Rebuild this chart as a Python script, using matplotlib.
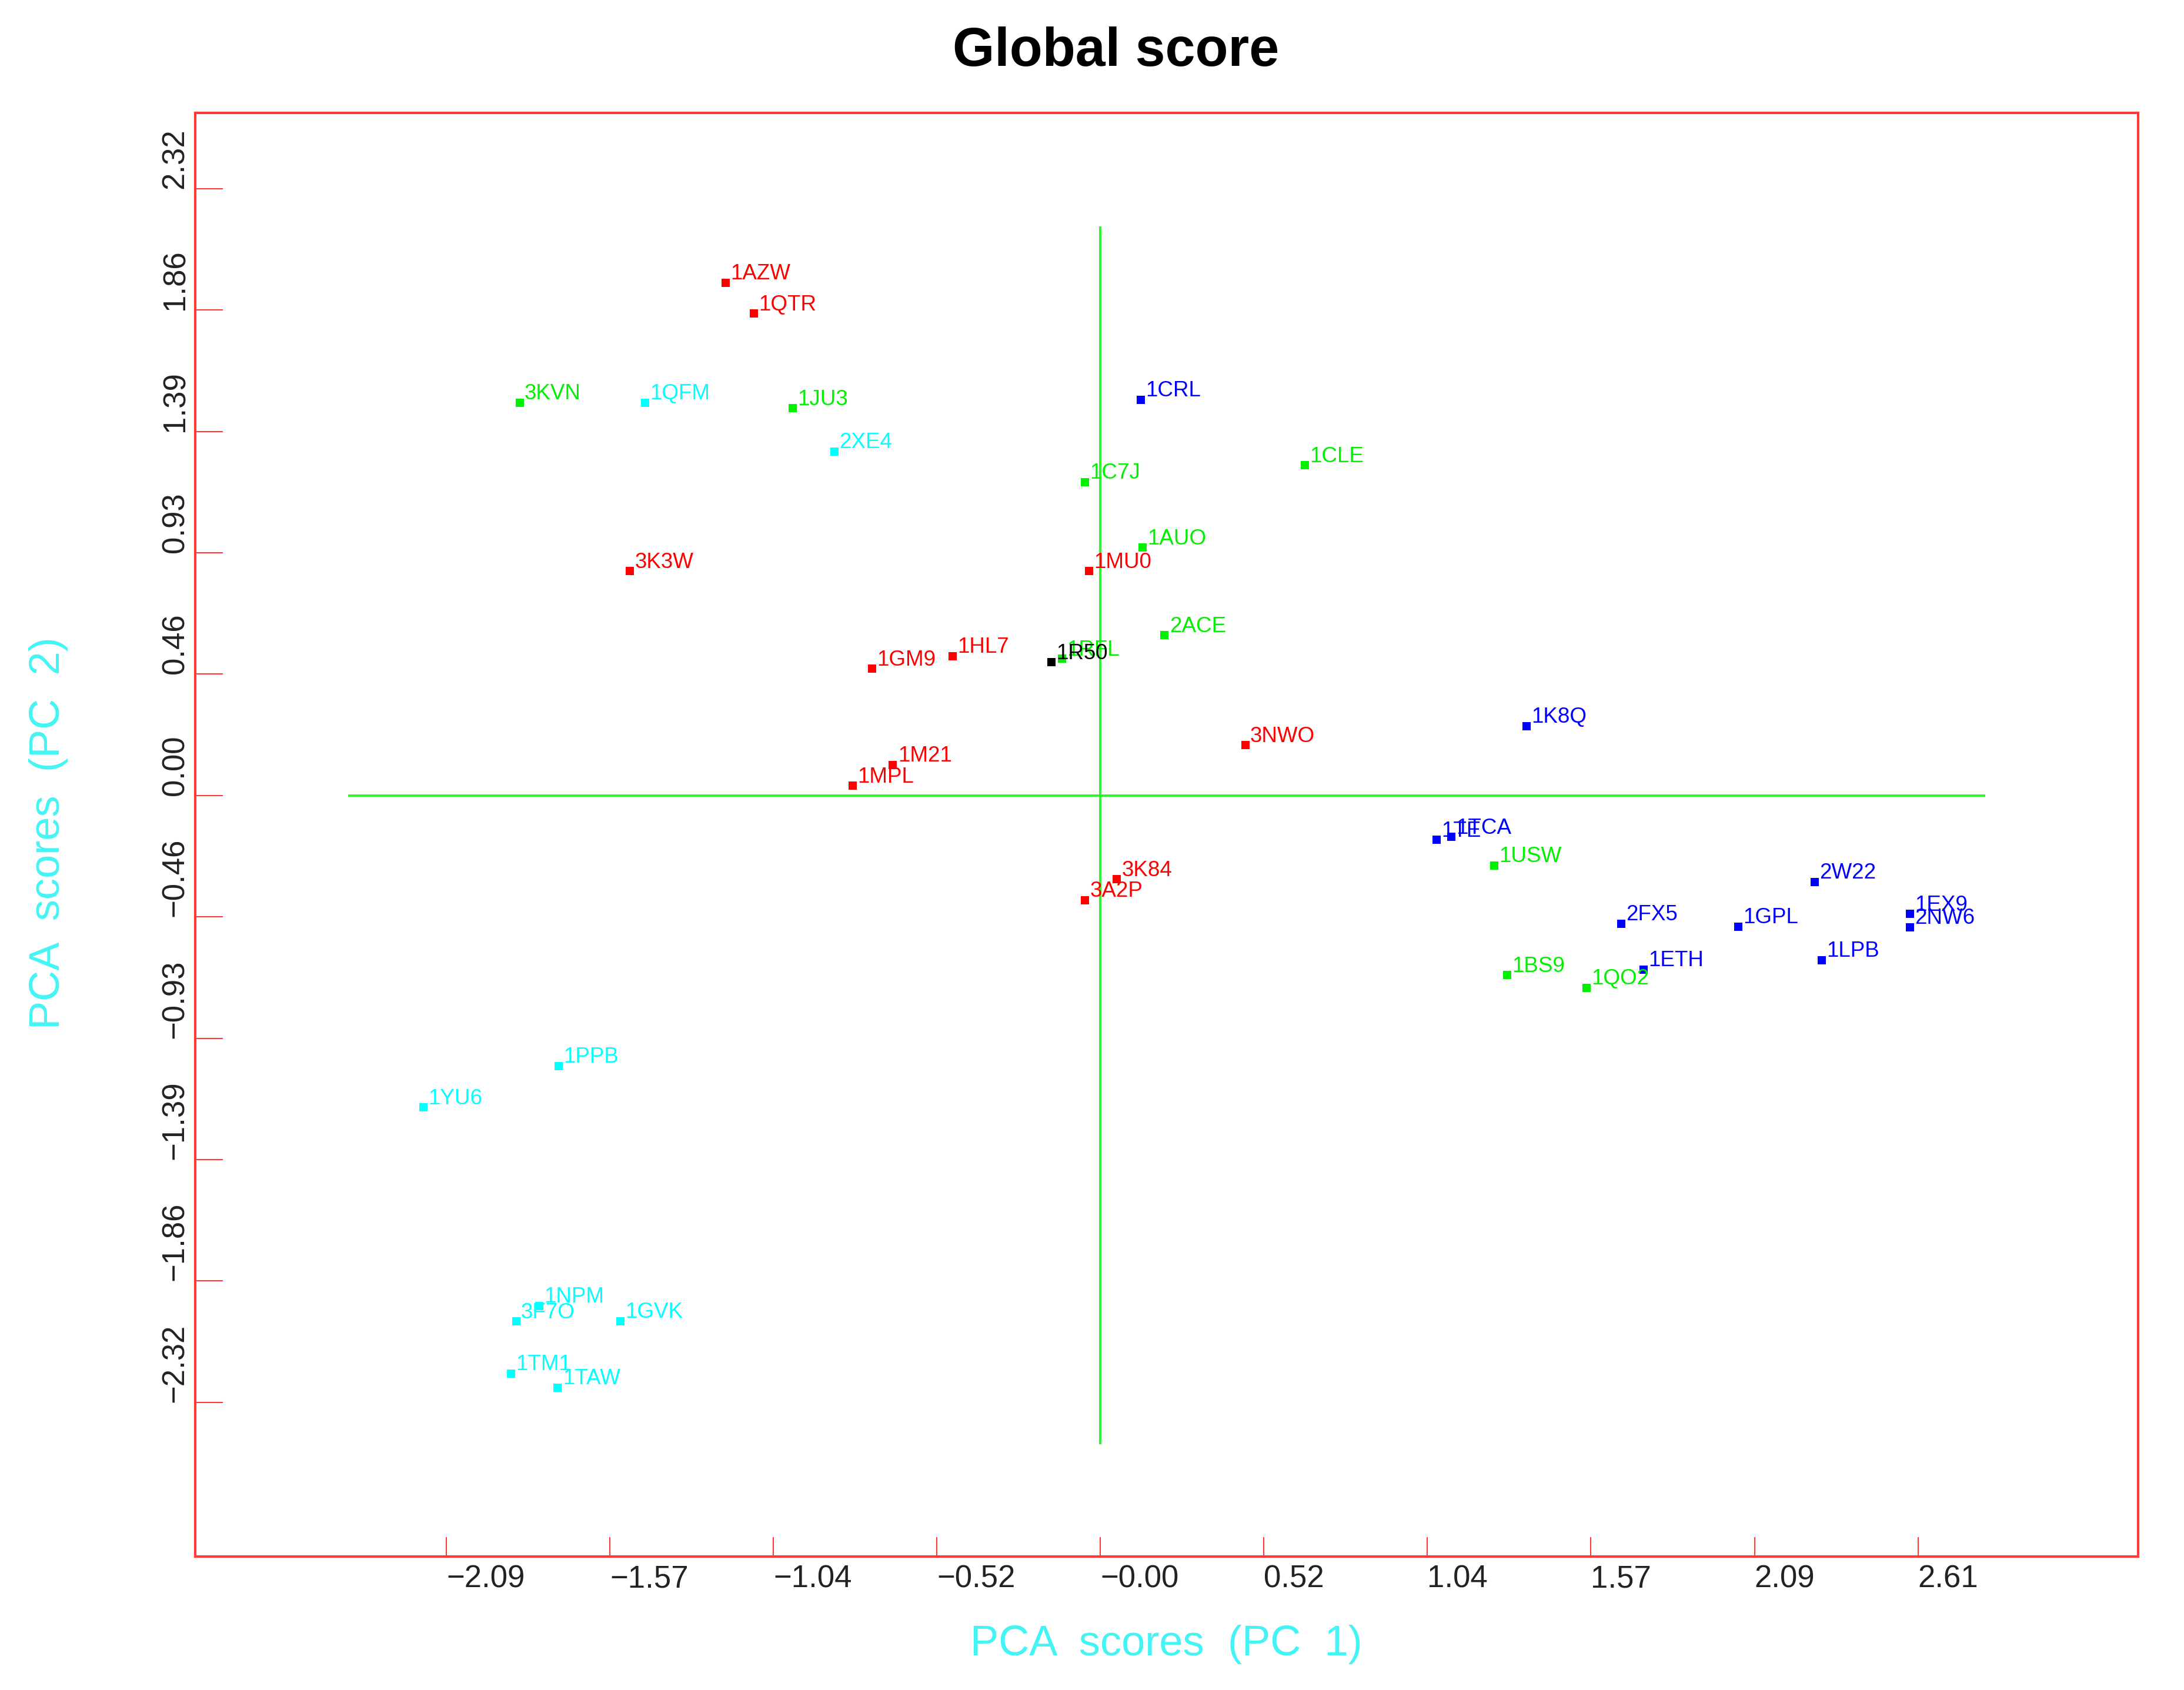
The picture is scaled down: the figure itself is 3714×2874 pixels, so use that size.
import matplotlib
matplotlib.use("Agg")
import matplotlib.pyplot as plt

# PCA scores
names = ["1AZW", "1QTR", "3K3W", "1MU0", "1HL7", "1GM9", "1M21", "1MPL", "3NWO", "3K84", "3A2P",
         "3KVN", "1JU3", "1C7J", "1CLE", "1AUO", "2ACE", "1RFL", "1USW", "1BS9", "1QO2",
         "1CRL", "1K8Q", "1TE", "1TCA", "2W22", "2FX5", "1GPL", "1EX9", "2NW6", "1LPB", "1ETH",
         "1QFM", "2XE4", "1PPB", "1YU6", "3F7O", "1NPM", "1GVK", "1TM1", "1TAW",
         "1R50"]
pc1 = [-1.197, -1.108, -1.504, -0.036, -0.472, -0.730, -0.663, -0.792, 0.463, 0.053, -0.049,
       -1.856, -0.984, -0.049, 0.654, 0.134, 0.205, -0.122, 1.259, 1.300, 1.553,
       0.129, 1.362, 1.075, 1.122, 2.283, 1.664, 2.038, 2.586, 2.586, 2.305, 1.736,
       -1.455, -0.850, -1.731, -2.163, -1.867, -1.793, -1.534, -1.884, -1.734,
       -0.157]
pc2 = [1.961, 1.843, 0.858, 0.858, 0.533, 0.485, 0.117, 0.037, 0.192, -0.320, -0.400,
       1.502, 1.481, 1.199, 1.263, 0.948, 0.613, 0.523, -0.268, -0.687, -0.735,
       1.513, 0.266, -0.170, -0.158, -0.330, -0.490, -0.501, -0.453, -0.503, -0.629, -0.666,
       1.502, 1.316, -1.034, -1.193, -2.011, -1.951, -2.010, -2.210, -2.264,
       0.509]
groups = ["red"] * 11 + ["green"] * 10 + ["blue"] * 11 + ["cyan"] * 9 + ["black"]

colors = {"red": "#ff0000", "green": "#00f000", "blue": "#0000ff",
          "cyan": "#00ffff", "black": "#000000"}

xticks = [-2.09, -1.5675, -1.045, -0.5225, 0.0, 0.5225, 1.045, 1.5675, 2.09, 2.6125]
xticklabels = ["−2.09", "−1.57", "−1.04", "−0.52", "−0.00", "0.52", "1.04", "1.57", "2.09", "2.61"]
yticks = [2.32, 1.856, 1.392, 0.928, 0.464, 0.0, -0.464, -0.928, -1.392, -1.856, -2.32]
yticklabels = ["2.32", "1.86", "1.39", "0.93", "0.46", "0.00", "−0.46", "−0.93", "−1.39", "−1.86", "−2.32"]

sans = ["Liberation Sans", "DejaVu Sans"]
axcol = "#ff3a3a"

fig = plt.figure(figsize=(37.14, 28.74), dpi=100)
ax = fig.add_axes([0.0893, 0.0791, 0.8897, 0.8541])

# crosshair through the origin, 5% beyond the data range
xr = max(pc1) - min(pc1)
yr = max(pc2) - min(pc2)
ax.plot([min(pc1) - 0.05 * xr, max(pc1) + 0.05 * xr], [0, 0], color="#2af52a", lw=2.8, zorder=1)
ax.plot([0, 0], [min(pc2) - 0.05 * yr, max(pc2) + 0.05 * yr], color="#2af52a", lw=2.8, zorder=1)

for n, x, y, g in zip(names, pc1, pc2, groups):
    c = colors[g]
    ax.plot(x, y, "s", color=c, ms=10, mew=0, zorder=3)
    ax.annotate(n, (x, y), xytext=(6, 4), textcoords="offset points",
                ha="left", va="baseline", color=c, fontsize=26.5,
                family=sans, zorder=4)

ax.set_xlim(-2.893, 3.316)
ax.set_ylim(-2.909, 2.61)

ax.set_xticks(xticks)
ax.set_xticklabels(xticklabels, ha="left", family=sans, fontsize=38, color="#222222")
ax.set_yticks(yticks)
ax.set_yticklabels(yticklabels, rotation=90, va="bottom", ha="right",
                   family=sans, fontsize=38, color="#222222")
ax.tick_params(axis="x", direction="in", length=24, width=1.5, color=axcol, pad=10)
ax.tick_params(axis="y", direction="in", length=34, width=1.5, color=axcol, pad=6)

for s in ax.spines.values():
    s.set_color(axcol)
    s.set_linewidth(3)

fig.text(0.534, 0.027, "PCA  scores  (PC  1)", ha="center", va="center",
         color="#44f4f4", fontsize=52, family=sans)
fig.text(0.0223, 0.507, "PCA  scores  (PC  2)", ha="center", va="center", rotation=90,
         color="#44f4f4", fontsize=52, family=sans)
fig.text(0.511, 0.9695, "Global score", ha="center", va="center",
         fontsize=66, fontweight="bold", family=sans)

fig.savefig("out.png", dpi=100, facecolor="white")
